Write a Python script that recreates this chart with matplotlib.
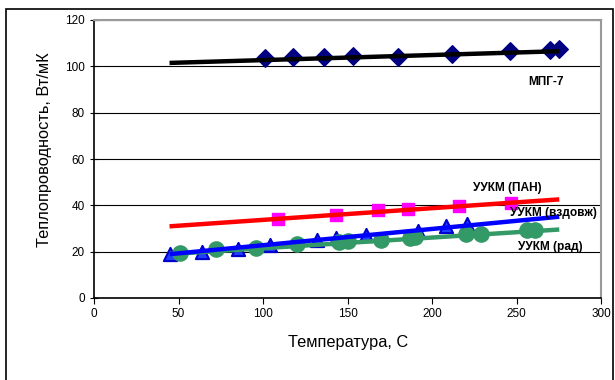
import numpy as np
import matplotlib
matplotlib.use("Agg")
import matplotlib.pyplot as plt
import matplotlib.patches as mpatches

plt.rcParams["font.family"] = ["Liberation Sans", "DejaVu Sans"]

# МПГ-7
mpg_t = [101, 118, 136, 153, 180, 212, 246, 270, 275]
mpg_k = [103.5, 104, 104, 104.5, 104, 105.5, 106.5, 107, 107.5]
mpg_fit_t = [46, 274]
mpg_fit_k = [101.5, 106.5]

# УУКМ (ПАН)
pan_t = [109, 143, 168, 186, 216, 247]
pan_k = [34, 36, 38, 38.5, 39.5, 41]
pan_fit_t = [46, 274]
pan_fit_k = [31, 42.5]

# УУКМ (вздовж)
vzd_t = [45, 64, 85, 104, 132, 143, 161, 192, 208, 221]
vzd_k = [19, 20, 21, 23, 25, 26, 27, 29, 31, 32]
vzd_fit_t = [46, 274]
vzd_fit_k = [19, 35]

# УУКМ (рад)
rad_t = [51, 72, 96, 120, 145, 150, 170, 187, 190, 220, 229, 256, 261]
rad_k = [19.5, 21, 21.5, 23.5, 24, 24.5, 25, 26, 26.5, 27.5, 27.5, 29.5, 29.5]
rad_fit_t = [46, 274]
rad_fit_k = [19, 29.5]

labels = ["МПГ-7", "УУКМ (ПАН)", "УУКМ (вздовж)", "УУКМ (рад)"]
label_pos = [(257, 93.3), (224, 47.3), (246, 36.8), (251, 21.9)]

fig = plt.figure(figsize=(6.15, 3.8), dpi=100)
fig.patches.append(mpatches.Rectangle((6 / 615, -0.1), 607 / 615, 1.1 - 9 / 380,
                                      transform=fig.transFigure, fill=False,
                                      edgecolor="black", linewidth=1.2))
ax = fig.add_axes([94 / 615, 82 / 380, 507 / 615, 278 / 380])

ax.scatter(mpg_t, mpg_k, marker="D", s=80, color="#000080", zorder=3)
ax.scatter(pan_t, pan_k, marker="s", s=80, color="#FF00FF", zorder=3)
ax.scatter(vzd_t, vzd_k, marker="^", s=90, color="#1f3fff", edgecolor="#0000CC",
           linewidth=1.5, zorder=3)
ax.scatter(rad_t, rad_k, marker="o", s=120, color="#339966", zorder=3)

ax.plot(mpg_fit_t, mpg_fit_k, color="black", lw=3.2, zorder=4)
ax.plot(pan_fit_t, pan_fit_k, color="red", lw=3.2, zorder=4)
ax.plot(rad_fit_t, rad_fit_k, color="#339966", lw=3.2, zorder=4)
ax.plot(vzd_fit_t, vzd_fit_k, color="blue", lw=3.2, zorder=5)

for lab, (x, y) in zip(labels, label_pos):
    ax.text(x, y, lab, fontsize=8.6, fontweight="bold", ha="left", va="center", zorder=6)

ax.set_xlim(0, 300)
ax.set_ylim(0, 120)
ax.set_xticks(range(0, 301, 50))
ax.set_yticks(range(0, 121, 20))
ax.yaxis.grid(True, color="black", lw=0.8)
ax.set_axisbelow(True)
ax.tick_params(labelsize=8.5, length=4, color="black")
ax.tick_params(axis="y", direction="inout", length=6)
for side in ["top", "right"]:
    ax.spines[side].set_color("#999999")
    ax.spines[side].set_linewidth(1.5)
for side in ["left", "bottom"]:
    ax.spines[side].set_linewidth(1.2)
ax.set_xlabel("Температура, С", fontsize=11.8)
ax.set_ylabel("Теплопроводность, Вт/мК", fontsize=11.8)
ax.xaxis.set_label_coords(0.501, -0.16)
ax.yaxis.set_label_coords(-0.097, 0.532)
ax.xaxis.label.set_va("center")
ax.yaxis.label.set_va("center")

fig.savefig("out.png", dpi=100)
